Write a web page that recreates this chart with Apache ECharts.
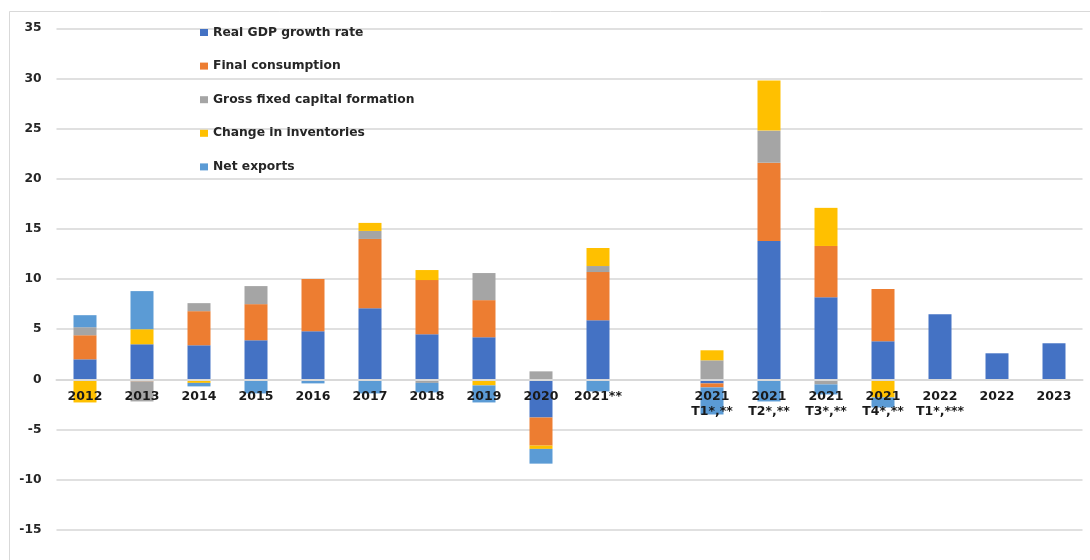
<!DOCTYPE html>
<html>
<head>
<meta charset="utf-8">
<script src="https://cdn.jsdelivr.net/npm/echarts@6/dist/echarts.min.js"></script>
<style>
  html, body { margin: 0; padding: 0; background: #ffffff; }
  #chart { width: 1090px; height: 560px; }
</style>
</head>
<body>
<div id="chart"></div>
<script>
// Contributions to real GDP growth (percentage points)
const categories = ['2012', '2013', '2014', '2015', '2016', '2017', '2018', '2019', '2020', '2021**', '',
  '2021\nT1*,**', '2021\nT2*,**', '2021\nT3*,**', '2021\nT4*,**', '2022\nT1*,***', '2022', '2023'];

const gdpGrowth      = [2.0, 3.5, 3.4, 3.9, 4.8, 7.1, 4.5, 4.2, -3.8, 5.9, null, -0.4, 13.8, 8.2, 3.8, 6.5, 2.6, 3.6];
const finalConsumption = [2.4, -0.2, 3.4, 3.6, 5.2, 6.9, 5.4, 3.7, -2.8, 4.8, null, -0.4, 7.8, 5.1, 5.2, null, null, null];
const grossFixedCapital = [0.8, -2.0, 0.8, 1.8, null, 0.8, -0.35, 2.7, 0.8, 0.6, null, 1.9, 3.2, -0.5, null, null, null, null];
const inventoriesChange = [-2.3, 1.5, -0.35, -0.1, null, 0.8, 1.0, -0.6, -0.33, 1.8, null, 1.0, 5.0, 3.8, -1.8, null, null, null];
const netExports     = [1.2, 3.8, -0.35, -1.3, -0.4, -1.4, -0.95, -1.7, -1.47, -1.2, null, -2.7, -2.2, -1.0, -1.0, null, null, null];

const seriesNames = ['Real GDP growth rate', 'Final consumption', 'Gross fixed capital formation',
  'Change in inventories', 'Net exports'];
const seriesColors = ['#4472C4', '#ED7D31', '#A5A5A5', '#FFC000', '#5B9BD5'];
const seriesData = [gdpGrowth, finalConsumption, grossFixedCapital, inventoriesChange, netExports];

// Value axis range; the plot runs past the lower edge of the canvas
const Y_MIN = -20, Y_MAX = 35, Y_STEP = 5;
const GRID_TOP = 28.3, GRID_BOTTOM = -20, CANVAS_H = 560;
// Category labels sit on the zero line: shift the bottom axis up to y = 0
const plotH = CANVAS_H - GRID_TOP - GRID_BOTTOM;
const zeroOffset = -plotH * (0 - Y_MIN) / (Y_MAX - Y_MIN);

const FONT = 'DejaVu Sans';
const chart = echarts.init(document.getElementById('chart'), null, { renderer: 'canvas' });

chart.setOption({
  animation: false,
  backgroundColor: '#ffffff',
  graphic: [{
    type: 'rect',
    shape: { x: 9.5, y: 11.5, width: 1100, height: 600 },
    style: { fill: 'none', stroke: '#d9d9d9', lineWidth: 1 },
    silent: true,
    z: -1
  }],
  legend: {
    orient: 'vertical',
    left: 200,
    top: 25.5,
    padding: 0,
    itemWidth: 8,
    itemHeight: 7,
    itemGap: 19.6,
    icon: 'rect',
    textStyle: { fontFamily: FONT, fontWeight: 'bold', fontSize: 12.3, color: '#262626', lineHeight: 14 },
    data: seriesNames
  },
  grid: {
    left: 56.5, right: 7.5, top: GRID_TOP, bottom: GRID_BOTTOM,
    containLabel: false,
    outerBoundsMode: 'none'
  },
  xAxis: {
    type: 'category',
    data: categories,
    position: 'bottom',
    offset: zeroOffset,
    z: 10,
    axisLine: { onZero: false, lineStyle: { color: '#d9d9d9', width: 2 } },
    axisTick: { show: false },
    axisLabel: {
      interval: 0,
      margin: 10,
      fontFamily: FONT,
      fontWeight: 'bold',
      fontSize: 12.5,
      lineHeight: 15,
      color: '#1a1a1a'
    }
  },
  yAxis: {
    type: 'value',
    min: Y_MIN,
    max: Y_MAX,
    interval: Y_STEP,
    axisLine: { show: false },
    axisTick: { show: false },
    splitLine: { lineStyle: { color: '#e0e0e0', width: 2 } },
    axisLabel: {
      margin: 15,
      fontFamily: FONT,
      fontWeight: 'bold',
      fontSize: 12.3,
      color: '#262626'
    }
  },
  series: seriesNames.map((name, i) => ({
    name: name,
    type: 'bar',
    stack: 'contrib',
    barWidth: 23,
    data: seriesData[i],
    itemStyle: { color: seriesColors[i] }
  }))
});
</script>
</body>
</html>
